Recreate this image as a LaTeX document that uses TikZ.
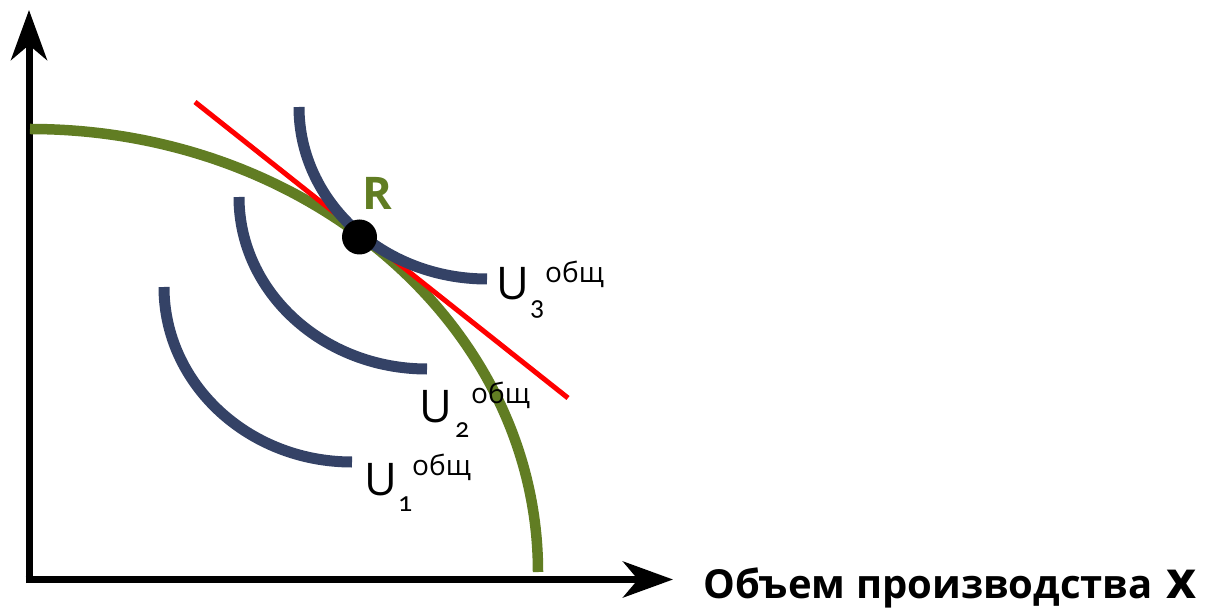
\documentclass[tikz,border=0pt]{standalone}
\usepackage{fontspec}
\setmainfont{Open Sans}
\newfontfamily\oldfig[Numbers=OldStyle]{Carlito}
\usetikzlibrary{arrows.meta}

\definecolor{frontgreen}{HTML}{617D23}
\definecolor{indiffblue}{HTML}{344266}

\newcommand{\bigfont}{\fontsize{45}{50}\selectfont}
\newcommand{\smallfont}{\fontsize{28}{32}\selectfont}

\begin{document}
\begin{tikzpicture}[x=1pt, y=-1pt,
        axis/.style={line width=7pt, -{Stealth[length=50pt, width=36pt, inset=15pt]}},
        frontier/.style={line width=10.5pt, frontgreen},
        indiff/.style={line width=11pt, indiffblue},
        tangent/.style={line width=5pt, red},
        lbl/.style={anchor=base west, inner sep=0pt, text=black}]
    \useasboundingbox (0, 0) rectangle (1206, 609);

    % Axes
    \coordinate (O) at (29, 580);
    \coordinate (ytip) at (29, 10);
    \coordinate (xtip) at (673, 579.5);
    \draw[axis] (29, 583) -- (ytip);
    \draw[axis] (25.5, 579.5) -- (xtip);
    \node[lbl, font=\bfseries\fontsize{40}{42}\selectfont] (xlabel) at (703, 598)
        {Объем производства\hspace{14pt}{\fontsize{52}{52}\selectfont x}};

    % Production frontier
    \draw[frontier] (30, 129) arc[start angle=-90, end angle=0, x radius=508, y radius=443];

    % Budget line
    \coordinate (ra) at (195, 102);
    \coordinate (rb) at (568, 398);
    \draw[tangent] (ra) -- (rb);

    % Indifference curve 1
    \draw[indiff] (164, 287) arc[start angle=180, end angle=90, x radius=188, y radius=175];
    \node[lbl, font=\bigfont] (u1) at (364, 495) {U};
    \node[lbl, font=\smallfont\oldfig] (u1sub) at (398, 511) {1};
    \node[lbl, font=\smallfont] (u1sup) at (412, 475) {общ};

    % Indifference curve 2
    \draw[indiff] (239, 197) arc[start angle=180, end angle=90, x radius=188, y radius=172];
    \node[lbl, font=\bigfont] (u2) at (419, 422) {U};
    \node[lbl, font=\smallfont\oldfig] (u2sub) at (455, 437) {2};
    \node[lbl, font=\smallfont] (u2sup) at (471, 403) {общ};

    % Indifference curve 3
    \draw[indiff] (299, 107) arc[start angle=180, end angle=90, x radius=188, y radius=172];
    \node[lbl, font=\bigfont] (u3) at (496, 300) {U};
    \node[lbl, font=\smallfont\oldfig] (u3sub) at (530, 316) {3};
    \node[lbl, font=\smallfont] (u3sup) at (545, 283) {общ};

    % Point R
    \fill (359.5, 237) circle (17.5);
    \node[lbl, font=\bfseries\bigfont, text=frontgreen] (R) at (362, 210) {R};
\end{tikzpicture}
\end{document}
